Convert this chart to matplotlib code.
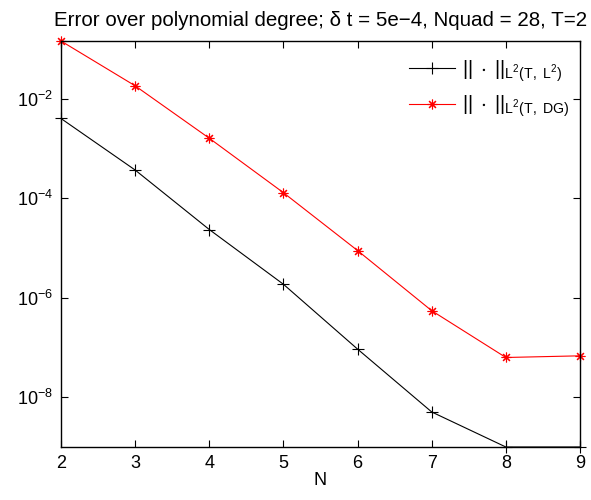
import numpy as np
import matplotlib
matplotlib.use("Agg")
import matplotlib.pyplot as plt

plt.rcParams["font.family"] = ["Liberation Sans", "DejaVu Sans"]
plt.rcParams["mathtext.fontset"] = "custom"
plt.rcParams["mathtext.rm"] = "Liberation Sans"
plt.rcParams["mathtext.it"] = "Liberation Sans"
plt.rcParams["mathtext.default"] = "regular"

# polynomial degree
N = [2, 3, 4, 5, 6, 7, 8, 9]

# error in L2(T, L2)
err_l2 = [4.02e-3, 3.69e-4, 2.34e-5, 1.85e-6, 9.16e-8, 4.97e-9, 9.8e-10, 9.8e-10]
# error in L2(T, DG)
err_dg = [1.46e-1, 1.83e-2, 1.61e-3, 1.29e-4, 8.83e-6, 5.43e-7, 6.21e-8, 6.71e-8]

TITLE = "Error over polynomial degree; \u03b4 t = 5e\u22124, Nquad = 28, T=2"
LAB_L2 = r"$||\;\cdot\;||_{L^2(T,\ L^2)}$"
LAB_DG = r"$||\;\cdot\;||_{L^2(T,\ DG)}$"


def main():
    fig = plt.figure(figsize=(5.91, 5.00), dpi=100)
    ax = fig.add_axes([0.1032, 0.106, 0.8782, 0.812])

    ax.semilogy(N, err_l2, color="black", lw=0.8, marker="+", ms=8, mew=0.8,
                label=LAB_L2, clip_on=False)
    ax.semilogy(N, err_dg, color="red", lw=0.8, marker=(8, 2, 0), ms=7, mew=0.8,
                label=LAB_DG, clip_on=False)

    ax.set_xlim(2, 9)
    ax.set_ylim(min(err_l2 + err_dg), max(err_l2 + err_dg))
    ax.set_xticks(N)
    ax.set_yticks([1e-8, 1e-6, 1e-4, 1e-2])
    ax.yaxis.set_minor_locator(matplotlib.ticker.NullLocator())
    ax.tick_params(direction="in", length=5, width=0.8, labelsize=13,
                   top=True, right=True, pad=6)
    for s in ax.spines.values():
        s.set_linewidth(1.0)

    ax.set_xlabel("N", fontsize=13, labelpad=0)
    ax.set_title(TITLE, fontsize=14.8, pad=11)

    ax.legend(loc="upper right", frameon=False, fontsize=14.5, handlelength=2.3,
              handletextpad=0.35, labelspacing=0.5, borderaxespad=0.45,
              bbox_to_anchor=(1.012, 1.0))

    fig.savefig("out.png", dpi=100)
    plt.close(fig)


if __name__ == "__main__":
    main()
